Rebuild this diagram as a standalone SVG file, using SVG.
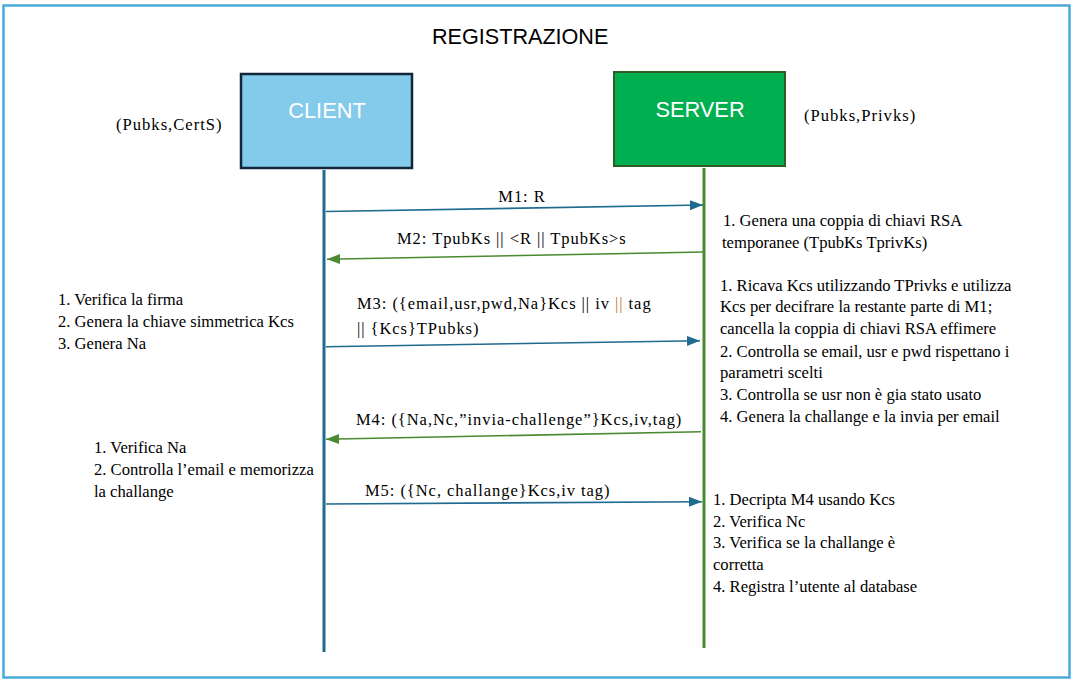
<svg xmlns="http://www.w3.org/2000/svg" width="1073" height="681" viewBox="0 0 1073 681">
<defs>
<style>
.t{font-family:"Liberation Serif","Times New Roman",serif;font-size:16.6px;fill:#000}
.m{font-family:"Liberation Serif","Times New Roman",serif;font-size:16.5px;fill:#000;letter-spacing:0.95px}
.k{font-family:"Liberation Serif","Times New Roman",serif;font-size:16.6px;fill:#000;letter-spacing:1px}
.title{font-family:"Liberation Sans",Arial,sans-serif;font-size:21.6px;fill:#000}
.lbl{font-family:"Liberation Sans",Arial,sans-serif;font-size:21.8px;fill:#fff;text-anchor:middle}
.blue{stroke:#1f6a8f;stroke-width:1.6;fill:none}
.green{stroke:#4a8a32;stroke-width:1.6;fill:none}
</style>
<marker id="ab" viewBox="0 0 13 10" refX="13" refY="5" markerWidth="13" markerHeight="10" markerUnits="userSpaceOnUse" orient="auto"><path d="M0,0 L13,5 L0,10 Z" fill="#1f6a8f"/></marker>
<marker id="ag" viewBox="0 0 13 10" refX="13" refY="5" markerWidth="13" markerHeight="10" markerUnits="userSpaceOnUse" orient="auto"><path d="M0,0 L13,5 L0,10 Z" fill="#4a8a32"/></marker>
</defs>
<rect x="0" y="0" width="1073" height="681" fill="#fff"/>
<rect x="3.5" y="5.5" width="1066" height="672" fill="none" stroke="#4aabdb" stroke-width="2.5"/>
<text class="title" x="432" y="44">REGISTRAZIONE</text>

<g id="client">
<rect x="241" y="74" width="171" height="94" fill="#83caeb" stroke="#10263a" stroke-width="2.5"/>
<text class="lbl" x="327" y="118">CLIENT</text>
<line x1="324" y1="170" x2="324" y2="652" stroke="#1f6a8f" stroke-width="3"/>
<text class="k" x="116" y="130">(Pubks,CertS)</text>
</g>

<g id="server">
<rect x="614" y="72" width="171" height="94" fill="#00b050" stroke="#2e5e23" stroke-width="2"/>
<text class="lbl" x="700" y="117">SERVER</text>
<line x1="704" y1="168" x2="704" y2="648" stroke="#4a8a32" stroke-width="3"/>
<text class="k" x="804" y="121">(Pubks,Privks)</text>
</g>

<g id="connectors">
<line class="blue" x1="326" y1="211.5" x2="703" y2="205" marker-end="url(#ab)"/>
<line class="green" x1="703" y1="252" x2="327" y2="259.3" marker-end="url(#ag)"/>
<line class="blue" x1="326" y1="346.7" x2="700" y2="340.7" marker-end="url(#ab)"/>
<line class="green" x1="701" y1="431.7" x2="326" y2="439.3" marker-end="url(#ag)"/>
<line class="blue" x1="326" y1="504" x2="702" y2="501.7" marker-end="url(#ab)"/>
</g>

<g id="labels">
<text class="m" x="522" y="202" text-anchor="middle">M1: R</text>
<text class="m" x="397" y="244">M2: TpubKs || &lt;R || TpubKs&gt;s</text>
<text class="m" x="357" y="309">M3: ({email,usr,pwd,Na}Kcs || iv <tspan fill="#c5791f">||</tspan> tag</text>
<text class="m" x="357" y="334">|| {Kcs}TPubks)</text>
<text class="m" x="356" y="425">M4: ({Na,Nc,”invia-challenge”}Kcs,iv,tag)</text>
<text class="m" x="365" y="496">M5: ({Nc, challange}Kcs,iv tag)</text>
</g>

<g id="notes-left">
<text class="t" x="58" y="305">1. Verifica la firma</text>
<text class="t" x="58" y="327">2. Genera la chiave simmetrica Kcs</text>
<text class="t" x="58" y="348.5">3. Genera Na</text>
<text class="t" x="94" y="453">1. Verifica Na</text>
<text class="t" x="94" y="475">2. Controlla l’email e memorizza</text>
<text class="t" x="94" y="497">la challange</text>
</g>

<g id="notes-right">
<text class="t" x="723" y="225.5">1. Genera una coppia di chiavi RSA</text>
<text class="t" x="722" y="247.5">temporanee (TpubKs TprivKs)</text>
<text class="t" x="720" y="290.5">1. Ricava Kcs utilizzando TPrivks e utilizza</text>
<text class="t" x="720" y="312.3">Kcs per decifrare la restante parte di M1;</text>
<text class="t" x="720" y="334">cancella la coppia di chiavi RSA effimere</text>
<text class="t" x="720" y="356.5">2. Controlla se email, usr e pwd rispettano i</text>
<text class="t" x="720" y="378">parametri scelti</text>
<text class="t" x="720" y="400">3. Controlla se usr non è gia stato usato</text>
<text class="t" x="720" y="421.7">4. Genera la challange e la invia per email</text>
<text class="t" x="713" y="505">1. Decripta M4 usando Kcs</text>
<text class="t" x="713" y="526.7">2. Verifica Nc</text>
<text class="t" x="713" y="548.3">3. Verifica se la challange è</text>
<text class="t" x="713" y="570">corretta</text>
<text class="t" x="713" y="592.3">4. Registra l’utente al database</text>
</g>
</svg>
